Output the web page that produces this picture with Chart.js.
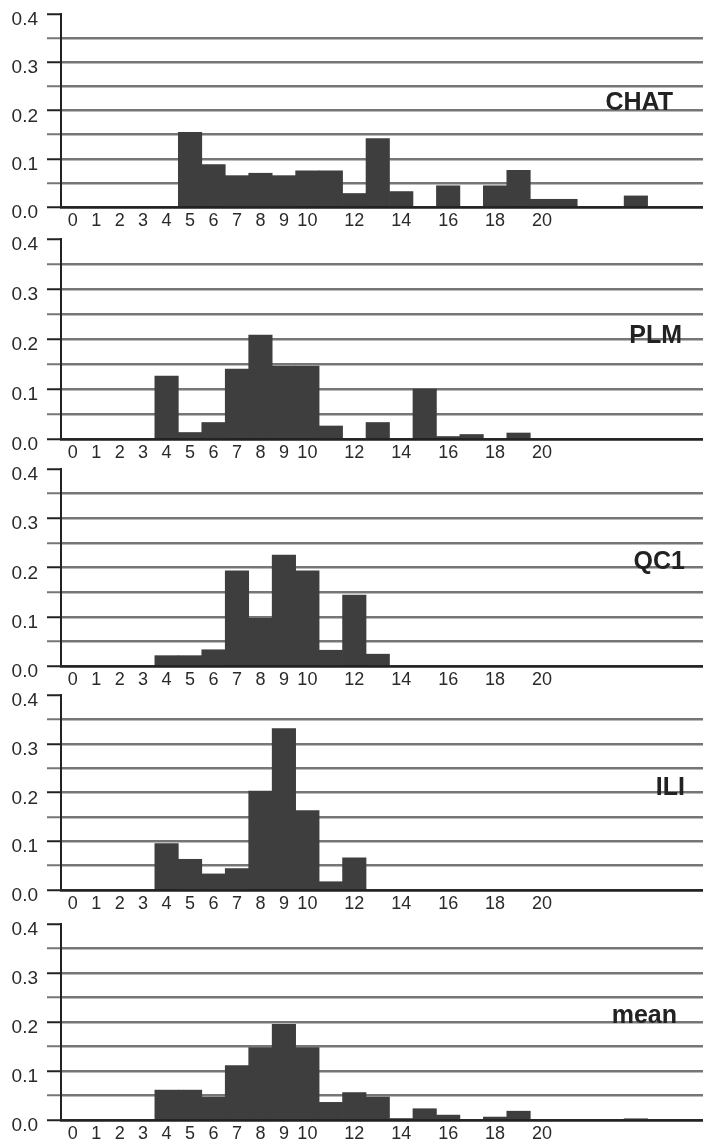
<!DOCTYPE html>
<html><head><meta charset="utf-8">
<script src="https://cdn.jsdelivr.net/npm/chart.js@4.4.1/dist/chart.umd.min.js"></script>
<style>
html,body{margin:0;padding:0;background:#fff;overflow:hidden;width:703px;height:1143px;}
#wrap{position:relative;width:703px;height:1143px;overflow:hidden;}
#wrap canvas{position:absolute;left:0;}
.lbl{position:absolute;font-family:'Liberation Sans',Arial,sans-serif;font-weight:bold;font-size:25px;line-height:25px;color:#222;white-space:nowrap;}
</style></head><body><div id="wrap"></div>
<script>
// ---- data ----
const bins = ['0','1','2','3','4','5','6','7','8','9','10','11','12','13','14','15','16','17','18','19','20','21','22','23','24','25','26','27'];
const shownTicks = ['0','1','2','3','4','5','6','7','8','9','10','12','14','16','18','20'];
const panelNames = ['CHAT','PLM','QC1','ILI','mean'];
const chat = [0,0,0,0,0,0.155,0.088,0.065,0.070,0.065,0.075,0.075,0.028,0.142,0.032,0,0.044,0,0.044,0.076,0.016,0.016,0,0,0.023,0,0,0];
const plm  = [0,0,0,0,0.126,0.013,0.033,0.140,0.208,0.146,0.146,0.026,0,0.033,0,0.100,0.005,0.009,0,0.012,0,0,0,0,0,0,0,0];
const qc1  = [0,0,0,0,0.021,0.021,0.033,0.193,0.097,0.225,0.193,0.032,0.144,0.024,0,0,0,0,0,0,0,0,0,0,0,0,0,0];
const ili  = [0,0,0,0,0.095,0.063,0.033,0.044,0.203,0.331,0.163,0.017,0.066,0,0,0,0,0,0,0,0,0,0,0,0,0,0,0];
const mean = [0,0,0,0,0.061,0.061,0.047,0.111,0.148,0.195,0.148,0.036,0.056,0.047,0.003,0.023,0.010,0,0.006,0.018,0,0,0,0,0.002,0,0,0];
const yMin = 0, yMax = 0.4, yStep = 0.05;
const series = [chat, plm, qc1, ili, mean];

// ---- layout ----
const areaTop    = [14, 239, 469, 695, 924];
const areaBottom = [207, 439, 666, 890, 1120];
const labelRight = [673, 682, 685, 685, 677];
const labelBase  = [110, 343, 569, 795, 1023];
const PAD_TOP = 24, X_H = 30, Y_W = 61, CANVAS_W = 718;

Chart.defaults.font.family = "'Liberation Sans', Arial, sans-serif";
const wrap = document.getElementById('wrap');
const isMajor = v => Math.abs(v * 10 - Math.round(v * 10)) < 1e-6;

series.forEach((vals, i) => {
  const cv = document.createElement('canvas');
  const h = areaBottom[i] - areaTop[i] + PAD_TOP + X_H;
  cv.width = CANVAS_W; cv.height = h;
  cv.style.width = CANVAS_W + 'px'; cv.style.height = h + 'px';
  cv.style.top = (areaTop[i] - PAD_TOP) + 'px';
  wrap.appendChild(cv);

  new Chart(cv, {
    type: 'bar',
    data: { labels: bins, datasets: [{ data: vals, backgroundColor: '#3e3e3e', borderWidth: 0, barPercentage: 1, categoryPercentage: 1 }] },
    options: {
      responsive: false, animation: false, devicePixelRatio: 1,
      layout: { padding: { top: PAD_TOP, right: 0, bottom: 0, left: 0 } },
      plugins: { legend: { display: false }, tooltip: { enabled: false } },
      scales: {
        x: {
          grid: { display: false, drawTicks: false },
          border: { display: true, color: '#222', width: 2.5 },
          ticks: {
            autoSkip: false, maxRotation: 0, minRotation: 0, padding: 3,
            color: '#2a2a2a', font: { size: 18 },
            callback: function (v) { const l = this.getLabelForValue(v); return shownTicks.includes(l) ? l : ''; }
          },
          afterFit: s => { s.height = X_H; }
        },
        y: {
          min: yMin, max: yMax,
          grid: {
            color: c => c.tick.value > yMax - 1e-6 ? 'rgba(0,0,0,0)' : (c.tick.value < 1e-6 ? '#222' : '#767676'),
            tickColor: c => isMajor(c.tick.value) ? '#222' : '#767676',
            lineWidth: 2.5, tickWidth: 2, tickLength: 14
          },
          border: { display: true, color: '#222', width: 2 },
          ticks: {
            stepSize: yStep, padding: 9, labelOffset: 6, autoSkip: false,
            color: '#2a2a2a', font: { size: 19 },
            callback: v => isMajor(v) ? v.toFixed(1) : ''
          },
          afterFit: s => { s.width = Y_W; }
        }
      }
    }
  });

  const d = document.createElement('div');
  d.className = 'lbl';
  d.textContent = panelNames[i];
  d.style.right = (703 - labelRight[i]) + 'px';
  d.style.top = (labelBase[i] - 21) + 'px';
  wrap.appendChild(d);
});
</script></body></html>
